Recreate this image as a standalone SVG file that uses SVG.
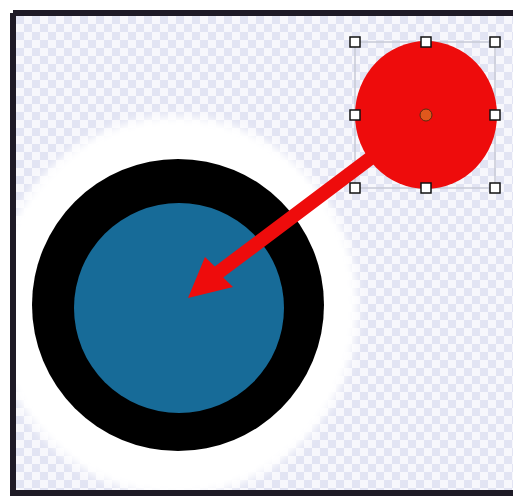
<svg xmlns="http://www.w3.org/2000/svg" width="513" height="498" viewBox="0 0 513 498">
<defs>
<pattern id="checker" x="16" y="16" width="16" height="16" patternUnits="userSpaceOnUse">
<rect width="16" height="16" fill="#f7f7fc"/>
<rect width="8" height="8" fill="#e2e4f3"/>
<rect x="8" y="8" width="8" height="8" fill="#e2e4f3"/>
</pattern>
<filter id="soft" x="-20%" y="-20%" width="140%" height="140%">
<feGaussianBlur stdDeviation="5"/>
</filter>
<clipPath id="frameclip">
<rect x="13" y="13" width="500" height="480"/>
</clipPath>
<style>
.handle{fill:#ffffff;stroke:#111111;stroke-width:1.5}
</style>
</defs>
<rect width="513" height="498" fill="#ffffff"/>
<g id="background">
<rect x="13" y="13" width="500" height="480" fill="url(#checker)"/>
<g clip-path="url(#frameclip)">
<ellipse cx="176" cy="306" rx="182" ry="190" fill="#ffffff" filter="url(#soft)"/>
</g>
<path d="M13,13 H513 M13,13 V493 H513" fill="none" stroke="#1e1a26" stroke-width="6"/>
</g>
<g id="target">
<circle cx="178" cy="305" r="146" fill="#000000"/>
<circle cx="179" cy="308" r="105" fill="#176b98"/>
</g>
<g id="selection">
<rect x="355" y="42" width="140" height="146" fill="none" stroke="#c8cad6" stroke-width="1.5"/>
</g>
<g id="connectors">
<path d="M188,298 L205,257 L214.8,266.4 L367.8,151.4 L376.2,162.6 L223.2,277.6 L233,287 Z" fill="#ee0c0c"/>
</g>
<g id="ball">
<ellipse cx="426" cy="115" rx="71" ry="74" fill="#ee0c0c"/>
<circle cx="426" cy="115" r="6" fill="#e0581c" stroke="#5a2a10" stroke-width="1"/>
</g>
<g id="handles">
<rect class="handle" x="350" y="37" width="10" height="10"/>
<rect class="handle" x="421" y="37" width="10" height="10"/>
<rect class="handle" x="490" y="37" width="10" height="10"/>
<rect class="handle" x="350" y="110" width="10" height="10"/>
<rect class="handle" x="490" y="110" width="10" height="10"/>
<rect class="handle" x="350" y="183" width="10" height="10"/>
<rect class="handle" x="421" y="183" width="10" height="10"/>
<rect class="handle" x="490" y="183" width="10" height="10"/>
</g>
</svg>
